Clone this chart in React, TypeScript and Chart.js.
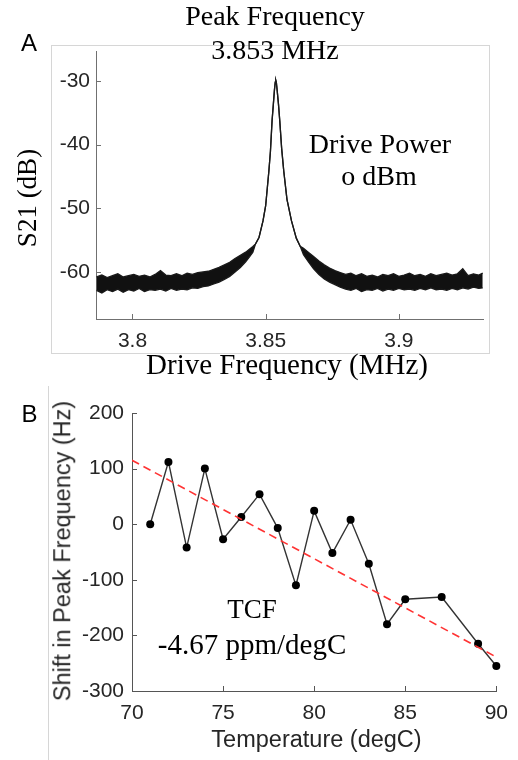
import React, { useEffect, useRef } from "react";
import { Chart, registerables } from "chart.js";

Chart.register(...registerables);

// ---- Panel A: S21 spectrum (noise band upper / lower envelopes, merged on the peak) ----
const specFreq = [
  3.7865, 3.7885, 3.7905, 3.7925, 3.7945, 3.7965, 3.7985, 3.8005, 3.8025, 3.8045,
  3.8065, 3.8085, 3.8105, 3.8125, 3.8145, 3.8165, 3.8185, 3.8205, 3.8225, 3.8245,
  3.8265, 3.8285, 3.8305, 3.8325, 3.8345, 3.8365, 3.8385, 3.8405, 3.8425, 3.844,
  3.8452, 3.8462, 3.8475, 3.849, 3.85, 3.8512, 3.8518, 3.8524, 3.8529, 3.8533,
  3.8536, 3.8538, 3.854, 3.8543, 3.8548, 3.8553, 3.856, 3.8568, 3.858, 3.8597,
  3.8615, 3.863, 3.8642, 3.866, 3.868, 3.87, 3.872, 3.874, 3.876, 3.878,
  3.88, 3.882, 3.884, 3.886, 3.888, 3.89, 3.892, 3.894, 3.896, 3.898,
  3.9, 3.902, 3.904, 3.906, 3.908, 3.91, 3.912, 3.914, 3.916, 3.918,
  3.92, 3.922, 3.924, 3.926, 3.928, 3.93, 3.9315,
];
const specUpper = [
  -60.8, -60.5, -60.9, -60.6, -60.3, -60.8, -60.6, -60.4, -60.7, -60.5,
  -60.8, -60.4, -59.8, -60.5, -60.6, -60.3, -60.6, -60.2, -60.4, -60.1,
  -60.0, -59.9, -59.6, -59.3, -58.9, -58.5, -57.9, -57.4, -56.9, -56.4,
  -56.0, -55.6, -54.6, -52.0, -49.6, -44.2, -41.0, -36.3, -33.6, -31.4,
  -30.2, -29.9, -30.2, -31.4, -33.6, -36.3, -40.6, -44.2, -48.6, -52.0,
  -54.7, -56.0, -56.3, -56.9, -57.6, -58.3, -58.9, -59.4, -59.8, -60.1,
  -60.4, -60.2, -60.6, -60.3, -60.7, -60.5, -60.8, -60.4, -60.6, -60.3,
  -60.7, -60.5, -60.2, -60.6, -60.4, -60.7, -60.3, -60.6, -60.4, -60.2,
  -60.5, -60.3, -59.5, -60.6, -60.3, -60.5, -60.2,
];
const specLower = [
  -62.9, -63.3, -62.8, -63.1, -62.7, -63.2, -62.8, -63.0, -62.6, -63.1,
  -62.8, -62.9, -62.7, -63.0, -62.6, -62.9, -62.7, -62.8, -62.5, -62.6,
  -62.3, -62.2, -61.9, -61.6, -61.2, -60.7, -60.0, -59.3, -58.4, -57.6,
  -56.9, -55.6, -54.6, -52.0, -49.6, -44.2, -41.0, -36.3, -33.6, -31.4,
  -30.2, -29.9, -30.2, -31.4, -33.6, -36.3, -40.6, -44.2, -48.6, -52.0,
  -54.7, -56.0, -57.3, -58.4, -59.5, -60.4, -61.1, -61.6, -62.0, -62.4,
  -62.7, -62.9, -62.6, -63.1, -62.8, -62.9, -62.6, -63.0, -62.7, -62.9,
  -62.6, -62.8, -62.7, -62.9, -62.6, -62.8, -62.5, -62.8, -62.7, -62.9,
  -62.6, -62.8, -62.5, -62.7, -62.4, -62.6, -62.5,
];
const specXTicks = [3.8, 3.85, 3.9];
const specYTicks = [-60, -50, -40, -30];

// ---- Panel B: peak frequency shift vs temperature ----
const tempC = [71, 72, 73, 74, 75, 76, 77, 78, 79, 80, 81, 82, 83, 84, 85, 87, 89, 90];
const shiftHz = [0, 112, -42, 100, -27, 13, 54, -7, -110, 24, -52, 8, -71, -180, -135, -131, -215, -255];
const fitTemp = [70, 90];
const fitShift = [115, -239];
const tempTicks = [70, 75, 80, 85, 90];
const shiftTicks = [-300, -200, -100, 0, 100, 200];

const SANS = '"Liberation Sans", Arial, sans-serif';
const SERIF = '"Liberation Serif", "Times New Roman", serif';
const TICK_COLOR = "#262626";

const inwardTicks = {
  id: "inwardTicks",
  afterDraw(chart: any, _args: any, opts: any) {
    const { ctx, chartArea, scales } = chart;
    ctx.save();
    ctx.strokeStyle = opts.color;
    ctx.lineWidth = 1;
    ctx.beginPath();
    scales.x.ticks.forEach((t: any) => {
      const px = Math.round(scales.x.getPixelForValue(t.value)) + 0.5;
      ctx.moveTo(px, chartArea.bottom);
      ctx.lineTo(px, chartArea.bottom - opts.len);
    });
    scales.y.ticks.forEach((t: any) => {
      const py = Math.round(scales.y.getPixelForValue(t.value)) + 0.5;
      ctx.moveTo(chartArea.left, py);
      ctx.lineTo(chartArea.left + opts.len, py);
    });
    ctx.stroke();
    ctx.restore();
  },
};

function makeAxis(
  min: number,
  max: number,
  tickValues: number[],
  color: string,
  padding: number,
  fit: (s: any) => void
) {
  return {
    type: "linear" as const,
    min,
    max,
    grid: { display: false, drawTicks: false },
    border: { display: true, color, width: 1 },
    afterBuildTicks: (s: any) => {
      s.ticks = tickValues.map((v) => ({ value: v }));
    },
    afterFit: fit,
    ticks: {
      autoSkip: false,
      maxRotation: 0,
      padding,
      color: TICK_COLOR,
      font: { family: SANS, size: 21 },
      callback: (v: any) => String(v),
    },
  };
}

function SpectrumChart() {
  const ref = useRef<HTMLCanvasElement>(null);
  useEffect(() => {
    const upper = specFreq.map((f, i) => ({ x: f, y: specUpper[i] }));
    const lower = specFreq.map((f, i) => ({ x: f, y: specLower[i] }));
    const chart = new Chart(ref.current!, {
      type: "line",
      data: {
        datasets: [
          {
            data: upper,
            borderColor: "#1a1a1a",
            borderWidth: 1.3,
            pointRadius: 0,
            fill: false,
            tension: 0,
          },
          {
            data: lower,
            borderColor: "#1a1a1a",
            borderWidth: 1.3,
            pointRadius: 0,
            fill: "-1",
            backgroundColor: "#111111",
            tension: 0,
          },
        ],
      },
      options: {
        animation: false,
        responsive: false,
        devicePixelRatio: 1,
        events: [],
        layout: { padding: { top: 51, right: 35, left: 0, bottom: 0 } },
        plugins: {
          legend: { display: false },
          tooltip: { enabled: false },
          inwardTicks: { color: "#707070", len: 5 },
        } as any,
        scales: {
          x: makeAxis(3.7863, 3.9316, specXTicks, "#707070", 10, (s: any) => {
            s.height = 61;
          }),
          y: makeAxis(-67.4, -25.3, specYTicks, "#707070", 6, (s: any) => {
            s.width = 96;
          }),
        },
      },
      plugins: [inwardTicks],
    });
    return () => chart.destroy();
  }, []);
  return (
    <canvas
      ref={ref}
      width={518}
      height={380}
      style={{ position: "absolute", left: 0, top: 0, width: 518, height: 380 }}
    />
  );
}

function ShiftChart() {
  const ref = useRef<HTMLCanvasElement>(null);
  useEffect(() => {
    const measured = tempC.map((t, i) => ({ x: t, y: shiftHz[i] }));
    const fit = fitTemp.map((t, i) => ({ x: t, y: fitShift[i] }));
    const chart = new Chart(ref.current!, {
      type: "line",
      data: {
        datasets: [
          {
            data: fit,
            borderColor: "#ff3333",
            borderWidth: 1.6,
            borderDash: [8, 5],
            pointRadius: 0,
            order: 0,
            tension: 0,
          },
          {
            data: measured,
            borderColor: "#333333",
            borderWidth: 1.4,
            pointRadius: 4,
            pointBackgroundColor: "#000000",
            pointBorderColor: "#000000",
            pointBorderWidth: 0,
            order: 1,
            tension: 0,
            clip: false,
          } as any,
        ],
      },
      options: {
        animation: false,
        responsive: false,
        devicePixelRatio: 1,
        events: [],
        layout: { padding: { top: 33, right: 17, left: 0, bottom: 0 } },
        plugins: {
          legend: { display: false },
          tooltip: { enabled: false },
          inwardTicks: { color: "#555555", len: 5 },
        } as any,
        scales: {
          x: makeAxis(70, 90, tempTicks, "#555555", 10, (s: any) => {
            s.height = 69;
          }),
          y: makeAxis(-300, 200, shiftTicks, "#555555", 8, (s: any) => {
            s.width = 132;
          }),
        },
      },
      plugins: [inwardTicks],
    });
    return () => chart.destroy();
  }, []);
  return (
    <canvas
      ref={ref}
      width={518}
      height={380}
      style={{ position: "absolute", left: 0, top: 380, width: 518, height: 380 }}
    />
  );
}

function Label(props: {
  x: number;
  y: number;
  text: string;
  size: number;
  family: string;
  rotate?: boolean;
  color?: string;
}) {
  const { x, y, text, size, family, rotate, color } = props;
  return (
    <div
      style={{
        position: "absolute",
        left: x,
        top: y,
        transform: `translate(-50%, -50%)${rotate ? " rotate(-90deg)" : ""}`,
        fontFamily: family,
        fontSize: size,
        lineHeight: 1,
        whiteSpace: "nowrap",
        color: color || "#000",
      }}
    >
      {text}
    </div>
  );
}

export default function App() {
  return (
    <div
      style={{
        position: "absolute",
        left: 0,
        top: 0,
        width: 518,
        height: 760,
        background: "#ffffff",
        overflow: "hidden",
      }}
    >
      <div
        style={{
          position: "absolute",
          left: 51,
          top: 45,
          width: 439,
          height: 309,
          border: "1px solid #d6d6d6",
          boxSizing: "border-box",
        }}
      />
      <div
        style={{
          position: "absolute",
          left: 48,
          top: 386,
          width: 1,
          height: 374,
          background: "#d6d6d6",
        }}
      />
      <SpectrumChart />
      <ShiftChart />
      <Label x={29} y={43} text="A" size={24} family={SANS} />
      <Label x={29.5} y={414} text="B" size={24} family={SANS} />
      <Label x={275} y={16} text="Peak Frequency" size={28} family={SERIF} />
      <Label x={275} y={50} text="3.853 MHz" size={28} family={SERIF} />
      <Label x={380} y={144} text="Drive Power" size={28} family={SERIF} />
      <Label x={379} y={176} text="o dBm" size={28} family={SERIF} />
      <Label x={27} y={198} text="S21 (dB)" size={27} family={SERIF} rotate />
      <Label x={287} y={364} text="Drive Frequency (MHz)" size={29} family={SERIF} />
      <Label x={252} y={609} text="TCF" size={27} family={SERIF} />
      <Label x={252} y={644} text="-4.67 ppm/degC" size={29} family={SERIF} />
      <Label x={62.5} y={551} text="Shift in Peak Frequency (Hz)" size={23.5} family={SANS} rotate color="#262626" />
      <Label x={316.5} y={740} text="Temperature (degC)" size={23.5} family={SANS} color="#262626" />
    </div>
  );
}
